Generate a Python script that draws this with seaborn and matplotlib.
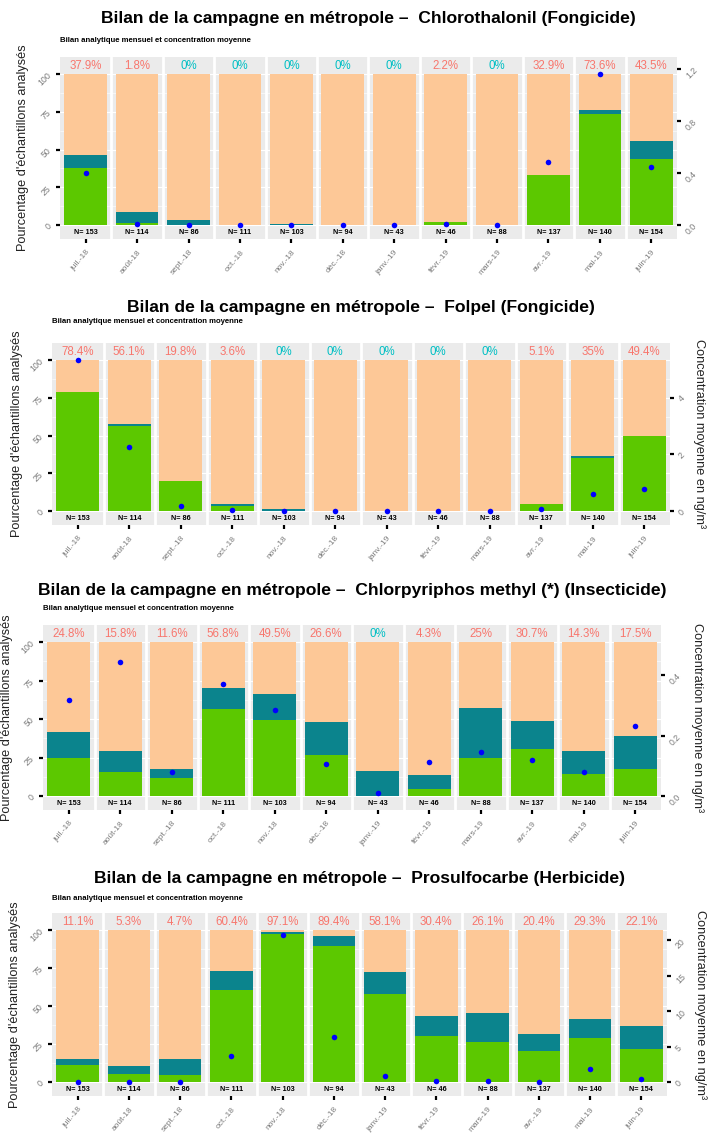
import numpy as np
import matplotlib
matplotlib.use('Agg')
import matplotlib.pyplot as plt
import seaborn as sns

sns.set_style('white')
plt.rcParams['font.family'] = ['Liberation Sans', 'DejaVu Sans']

# Mois et effectifs (communs aux 4 graphiques)
mois = ['juil.-18', 'août-18', 'sept.-18', 'oct.-18', 'nov.-18', 'déc.-18',
        'janv.-19', 'févr.-19', 'mars-19', 'avr.-19', 'mai-19', 'juin-19']
n_ech = [153, 114, 86, 111, 103, 94, 43, 46, 88, 137, 140, 154]

# Chlorothalonil
chloro_quant = [37.9, 1.8, 0, 0, 0, 0, 0, 2.2, 0, 32.9, 73.6, 43.5]
chloro_detect = [46.6, 8.8, 3.7, 0, 1.2, 0, 0, 2.2, 0, 32.9, 76.3, 55.8]
chloro_conc = [0.405, 0.012, 0.005, 0, 0.003, 0, 0, 0.012, 0, 0.49, 1.16, 0.45]
chloro_rticks = [0, 0.4, 0.8, 1.2]
chloro_rlabels = ['0.0', '0.4', '0.8', '1.2']

# Folpel
folpel_quant = [78.4, 56.1, 19.8, 3.6, 0, 0, 0, 0, 0, 5.1, 35, 49.4]
folpel_detect = [78.4, 57.6, 19.8, 4.6, 1.3, 0, 0, 0, 0, 5.1, 36.6, 49.4]
folpel_conc = [5.31, 2.27, 0.2, 0.04, 0.0, 0, 0, 0, 0, 0.07, 0.6, 0.8]
folpel_rticks = [0, 2, 4]
folpel_rlabels = ['0', '2', '4']

# Chlorpyriphos methyl
cpm_quant = [24.8, 15.8, 11.6, 56.8, 49.5, 26.6, 0, 4.3, 25, 30.7, 14.3, 17.5]
cpm_detect = [41.5, 29, 17.8, 70, 66, 48, 16.6, 13.5, 57, 49, 29, 39]
cpm_conc = [0.319, 0.444, 0.080, 0.373, 0.286, 0.107, 0.012, 0.113, 0.147, 0.12, 0.080, 0.233]
cpm_rticks = [0, 0.2, 0.4]
cpm_rlabels = ['0.0', '0.2', '0.4']

# Prosulfocarbe
prosul_quant = [11.1, 5.3, 4.7, 60.4, 97.1, 89.4, 58.1, 30.4, 26.1, 20.4, 29.3, 22.1]
prosul_detect = [15, 11, 15, 73, 98.5, 96, 72, 43.3, 45.2, 31.5, 41.3, 37.2]
prosul_conc = [0.1, 0.02, 0.02, 3.7, 20.8, 6.35, 0.84, 0.2, 0.2, 0.05, 1.9, 0.42]
prosul_rticks = [0, 5, 10, 15, 20]
prosul_rlabels = ['0', '5', '10', '15', '20']

PEACH = '#FDC897'
TEAL = '#0B848D'
GREEN = '#5CC800'
GRIS = '#7A7A7A'

W, H = 708, 1135
fig = plt.figure(figsize=(W / 100, H / 100), dpi=100)


def graphique(titre, quant, detect, conc, rmax, rticks, rlabels,
              left, right, top, bottom, ytitre, ysous, xlab, xrlab):
    ax = fig.add_axes([left / W, 1 - bottom / H, (right - left) / W, (bottom - top) / H])
    ax.set_facecolor('#EBEBEB')
    for y in [0, 25, 50, 75, 100]:
        ax.axhline(y, color='white', lw=0.8, zorder=0)
    for y in [12.5, 37.5, 62.5, 87.5]:
        ax.axhline(y, color='white', lw=0.4, zorder=0)

    for vals, coul, z in [([100] * 12, PEACH, 2), (detect, TEAL, 3), (quant, GREEN, 4)]:
        sns.barplot(x=mois, y=vals, color=coul, width=0.83, saturation=1,
                    linewidth=0, edgecolor='none', ax=ax, zorder=z)

    # séparation des facettes
    for k in range(11):
        ax.axvline(k + 0.5, color='white', lw=2, zorder=5)

    for i, q in enumerate(quant):
        coul = '#F8766D' if q > 0 else '#00BFC4'
        ax.text(i, 105.3, f'{q:g}%', ha='center', va='center', fontsize=8.3, color=coul, zorder=6)
        ax.text(i, -4.6, f'N= {n_ech[i]}', ha='center', va='center', fontsize=5.2,
                fontweight='bold', color='black', zorder=6)

    ax.set_xlim(-0.5, 11.5)
    ax.set_ylim(-9, 111)
    ax.set_yticks([0, 25, 50, 75, 100])
    ax.set_yticklabels(['0', '25', '50', '75', '100'], rotation=45)
    ax.set_xticks(range(12))
    ax.set_xticklabels(mois, rotation=50, ha='right', rotation_mode='anchor')
    ax.tick_params(axis='both', length=3, width=1.6, color='black', labelsize=6.3,
                   labelcolor=GRIS, pad=2, left=True, bottom=True)
    ax.tick_params(axis='x', pad=4, labelsize=6)
    ax.set_xlabel('')
    ax.set_ylabel('')
    for s in ax.spines.values():
        s.set_visible(False)

    ax2 = ax.twinx()
    sns.scatterplot(x=np.arange(12), y=conc, color='blue', s=16, linewidth=0, ax=ax2, zorder=7)
    ax2.set_ylim(-9 * rmax / 100, 111 * rmax / 100)
    ax2.set_xlim(-0.5, 11.5)
    ax2.set_yticks(rticks)
    ax2.set_yticklabels(rlabels, rotation=45)
    ax2.tick_params(axis='y', length=3, width=1.6, color='black', labelsize=6.3,
                    labelcolor=GRIS, pad=2, right=True)
    ax2.set_ylabel('')
    for s in ax2.spines.values():
        s.set_visible(False)

    cx = (left + right) / 2 / W
    fig.text(cx, 1 - ytitre / H, titre, ha='center', va='center', fontsize=12.6,
             fontweight='bold', color='black')
    fig.text(left / W, 1 - ysous / H, 'Bilan analytique mensuel et concentration moyenne',
             ha='left', va='center', fontsize=5.6, fontweight='bold', color='black')
    cy = 1 - (top + bottom) / 2 / H
    fig.text(xlab / W, cy, "Pourcentage d'échantillons analysés", rotation=90,
             ha='center', va='center', fontsize=9.2, color='#222222')
    if xrlab is not None:
        fig.text(xrlab / W, cy, 'Concentration moyenne en ng/m³', rotation=270,
                 ha='center', va='center', fontsize=9.2, color='#222222')


graphique('Bilan de la campagne en métropole –  Chlorothalonil (Fongicide)',
          chloro_quant, chloro_detect, chloro_conc, 1.165, chloro_rticks, chloro_rlabels,
          60, 677, 57, 239, 19, 40, 23, None)
graphique('Bilan de la campagne en métropole –  Folpel (Fongicide)',
          folpel_quant, folpel_detect, folpel_conc, 5.33, folpel_rticks, folpel_rlabels,
          52, 670, 343, 525, 307, 322, 17, 699)
graphique('Bilan de la campagne en métropole –  Chlorpyriphos methyl (*) (Insecticide)',
          cpm_quant, cpm_detect, cpm_conc, 0.511, cpm_rticks, cpm_rlabels,
          43, 661, 625, 810, 590, 609, 7, 697)
graphique('Bilan de la campagne en métropole –  Prosulfocarbe (Herbicide)',
          prosul_quant, prosul_detect, prosul_conc, 21.5, prosul_rticks, prosul_rlabels,
          52, 667, 913, 1096, 878, 898, 15, 700)

fig.savefig('out.png', dpi=100)
